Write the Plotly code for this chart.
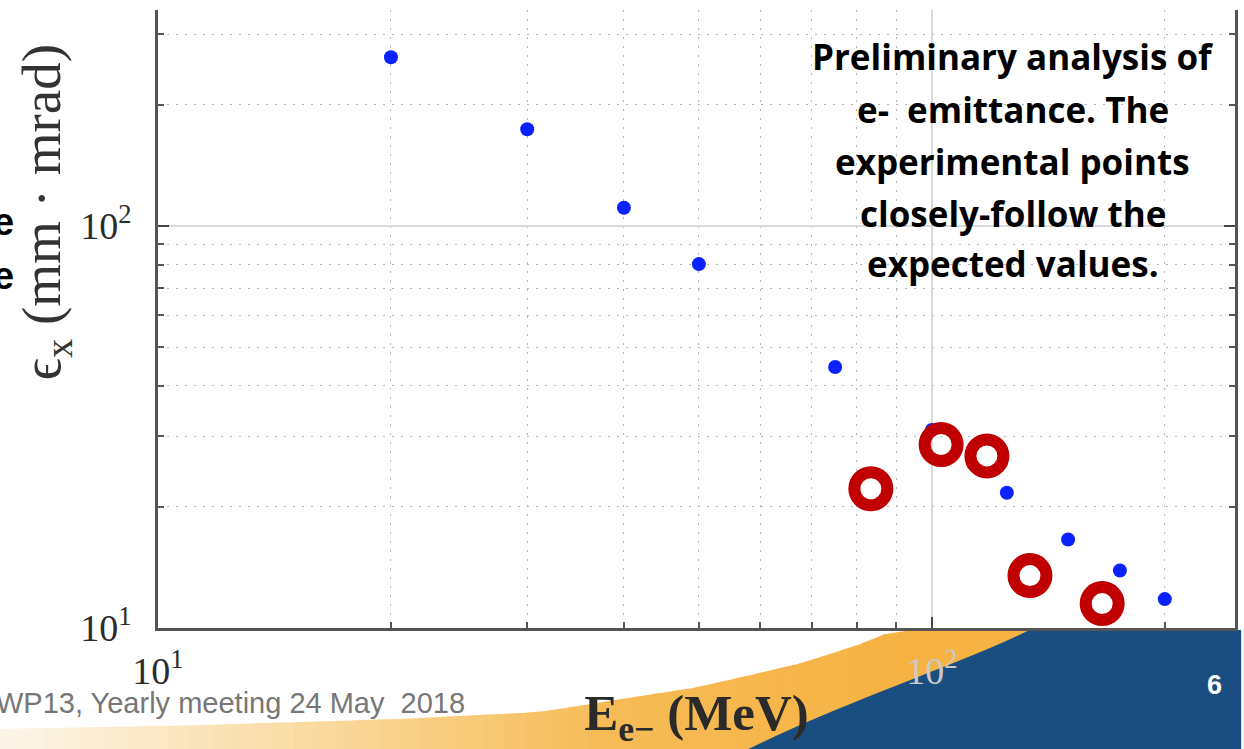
import numpy as np
import plotly.graph_objects as go

# ---------------- data ----------------
sim_energy = [20, 30, 40, 50, 75, 100, 125, 150, 175, 200]          # MeV
sim_emit = [263, 174, 111, 80.4, 44.6, 31.1, 21.7, 16.6, 13.9, 11.8]  # mm mrad
exp_energy = [83.4, 102.8, 117.8, 133.9, 166]
exp_emit = [22.2, 28.6, 26.8, 13.5, 11.5]

x_tickvals = [10, 100]
x_ticktext = ["10<sup>1</sup>", "<span style='color:#c9c9c9'>10<sup>2</sup></span>"]
y_tickvals = [10, 100]
y_ticktext = ["10<sup>1</sup>", "10<sup>2</sup>"]
x_minor = [20, 30, 40, 50, 60, 70, 80, 90, 200]
y_minor = [20, 30, 40, 50, 60, 70, 80, 90, 200, 300]

note_lines = ["Preliminary analysis of", "e-\u00a0 emittance. The", "experimental points",
              "closely-follow the", "expected values."]
footer_text = "WP13, Yearly meeting 24 May \u00a02018"
page_no = "6"

# ---------------- geometry helpers (pixels -> paper) ----------------
W, H = 1244, 749
L, R, T, B = 158, 1238, 10, 628


def px(x):
    return (x - L) / (R - L)


def py(y):
    return (B - y) / (B - T)


fig = go.Figure()
fig.add_trace(go.Scatter(x=sim_energy, y=sim_emit, mode="markers",
                         marker=dict(size=14, color="#0a22ff"), showlegend=False))
fig.add_trace(go.Scatter(x=exp_energy, y=exp_emit, mode="markers",
                         marker=dict(size=33, symbol="circle-open", color="#c00000",
                                     line=dict(width=12, color="#c00000")),
                         showlegend=False))

# ---------------- slide decoration (bottom band) ----------------
shapes = []
ux = [0, 200, 400, 540, 700, 800, 860, 894, 1244]
uy = [729, 725, 719, 712, 687, 664, 645, 631, 631]
cx = [0, 300, 600, 900, 1244]
cc = np.array([[253, 246, 234], [250, 220, 164], [247, 188, 88], [246, 179, 68], [246, 179, 68]])
edges = np.linspace(0, 1244, 60)
for a, b in zip(edges[:-1], edges[1:]):
    m = 0.5 * (a + b)
    col = [int(np.interp(m, cx, cc[:, k])) for k in range(3)]
    ya, yb = np.interp(a, ux, uy), np.interp(b, ux, uy)
    path = (f"M {px(a - 0.5)},{py(ya)} L {px(b + 0.5)},{py(yb)} "
            f"L {px(b + 0.5)},{py(H)} L {px(a - 0.5)},{py(H)} Z")
    shapes.append(dict(type="path", xref="paper", yref="paper", path=path,
                       fillcolor=f"rgb({col[0]},{col[1]},{col[2]})", line=dict(width=0),
                       layer="below"))
blue_path = (f"M {px(750)},{py(H)} C {px(850)},{py(700)} {px(960)},{py(665)} {px(1032)},{py(630)} "
             f"L {px(1244)},{py(630)} L {px(1244)},{py(H)} Z")
shapes.append(dict(type="path", xref="paper", yref="paper", path=blue_path,
                   fillcolor="#1a4e80", line=dict(width=0), layer="below"))

annotations = []
line_y = [56, 109, 161, 213, 263]
for txt, yy in zip(note_lines, line_y):
    annotations.append(dict(text=f"<b>{txt}</b>", x=px(1015), y=py(yy), xref="paper", yref="paper",
                            showarrow=False, xanchor="center", yanchor="middle",
                            font=dict(family="Open Sans", size=35, color="#000000")))
annotations.append(dict(text="ϵ<sub>x</sub> (mm · mrad)", x=px(45), y=py(212), xref="paper",
                        yref="paper", textangle=-90, showarrow=False, xanchor="center",
                        yanchor="middle",
                        font=dict(family="Liberation Serif", size=55, color="#333333")))
annotations.append(dict(text=footer_text, x=px(468), y=py(703), xref="paper", yref="paper",
                        showarrow=False, xanchor="right", yanchor="middle",
                        font=dict(family="Liberation Sans", size=29, color="#777777")))
annotations.append(dict(text=f"<b>{page_no}</b>", x=px(1217), y=py(685), xref="paper",
                        yref="paper", showarrow=False, xanchor="center", yanchor="middle",
                        font=dict(family="Liberation Sans", size=27, color="#ffffff")))
for yy in [222, 276]:
    annotations.append(dict(text="<b>e</b>", x=px(16), y=py(yy), xref="paper", yref="paper",
                            showarrow=False, xanchor="right", yanchor="middle",
                            font=dict(family="Liberation Sans", size=38, color="#000000")))

axis_common = dict(type="log", showline=True, linecolor="#555555", linewidth=2.5,
                   ticks="inside", ticklen=11, tickwidth=2, tickcolor="#444444",
                   showgrid=True, gridcolor="#dadada", gridwidth=1.5,
                   tickfont=dict(family="Liberation Serif", size=38, color="#2b2b2b"))

minor_common = dict(ticks="inside", ticklen=6, tickcolor="#555555", showgrid=True,
                    gridcolor="#b5b5b5", griddash="2px,7px", gridwidth=1.4)

fig.update_layout(
    width=W, height=H,
    margin=dict(l=L, r=W - R, t=T, b=H - B),
    paper_bgcolor="white", plot_bgcolor="white",
    showlegend=False,
    shapes=shapes,
    annotations=annotations,
    xaxis=dict(**axis_common, range=[1, 1 + (R - L) / 776.0],
               tickvals=x_tickvals, ticktext=x_ticktext, ticklabelstandoff=8,
               minor=dict(tickvals=x_minor, **minor_common),
               title=dict(text="<b>E<sub>e−</sub> (MeV)</b>", standoff=10,
                          font=dict(family="Liberation Serif", size=51, color="#2a2a2a"))),
    yaxis=dict(**axis_common, range=[1, 1 + (B - T) / 402.0], mirror="ticks",
               tickvals=y_tickvals, ticktext=y_ticktext, ticklabelstandoff=16,
               minor=dict(tickvals=y_minor, **minor_common)),
)

fig.write_html("out.html")
